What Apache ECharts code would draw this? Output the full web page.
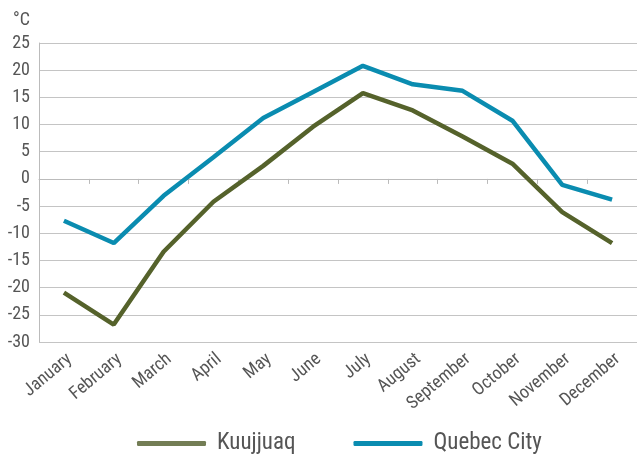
<!DOCTYPE html>
<html><head><meta charset="utf-8">
<script src="https://cdn.jsdelivr.net/npm/echarts@6/dist/echarts.min.js"></script>
<style>html,body{margin:0;padding:0;background:#fff}#c{width:637px;height:455px}</style>
</head><body><div id="c"></div>
<script>
const months = ['January','February','March','April','May','June','July','August','September','October','November','December'];
const kuujjuaq = [-20.9, -26.8, -13.4, -4.2, 2.4, 9.6, 15.8, 12.6, 7.8, 2.8, -6.1, -11.8];
const quebecCity = [-7.7, -11.8, -3.1, 4.0, 11.2, 16.0, 20.8, 17.4, 16.2, 10.7, -1.1, -3.8];
const yTicks = {min: -30, max: 25, interval: 5};
const FONT = '"Roboto Condensed", "Liberation Sans Narrow", "DejaVu Sans Condensed", sans-serif';
const chart = echarts.init(document.getElementById('c'));
chart.setOption({
  animation: false,
  grid: {left: 39, top: 43, width: 600, height: 299, containLabel: false},
  legend: {
    top: 427, left: 132, itemWidth: 69, itemHeight: 5, itemGap: 58,
    icon: 'roundRect',
    textStyle: {fontFamily: FONT, fontSize: 23, color: '#555', padding: [0, 0, 0, 6]},
    data: [
      {name: 'Kuujjuaq', itemStyle: {color: '#737d55'}, lineStyle: {color: '#737d55'}},
      {name: 'Quebec City', itemStyle: {color: '#0a8cb0'}, lineStyle: {color: '#0a8cb0'}}
    ]
  },
  xAxis: {
    type: 'category', data: months, boundaryGap: true,
    axisLine: {onZero: true, lineStyle: {color: '#bbb', width: 1}},
    axisTick: {show: true, length: 5, lineStyle: {color: '#bbb'}},
    axisLabel: {interval: 0, rotate: 40, fontFamily: FONT, fontSize: 18, color: '#555', margin: 8, verticalAlign: 'top'},
    splitLine: {show: false}
  },
  yAxis: {
    type: 'value', min: yTicks.min, max: yTicks.max, interval: yTicks.interval,
    name: '°C', nameLocation: 'end', nameGap: 14,
    nameTextStyle: {fontFamily: FONT, fontSize: 18, color: '#555', align: 'right', padding: [0, 9, 0, 0]},
    axisLine: {show: true, lineStyle: {color: '#bbb'}},
    axisTick: {show: false},
    axisLabel: {fontFamily: FONT, fontSize: 18, color: '#555', margin: 9},
    splitLine: {lineStyle: {color: '#c4c4c4', width: 1}}
  },
  series: [
    {name: 'Kuujjuaq', type: 'line', data: kuujjuaq, symbol: 'none',
     lineStyle: {color: '#55622b', width: 4.5}, itemStyle: {color: '#55622b'}},
    {name: 'Quebec City', type: 'line', data: quebecCity, symbol: 'none',
     lineStyle: {color: '#0a8cb0', width: 4.5}, itemStyle: {color: '#0a8cb0'}}
  ]
});
</script></body></html>
